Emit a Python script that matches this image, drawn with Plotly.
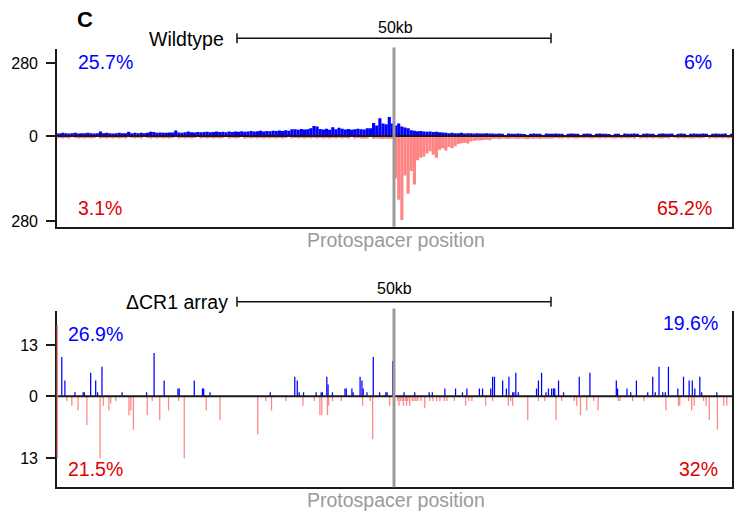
import plotly.graph_objects as go

W, H = 739, 518

# ---------------- data ----------------
# Wildtype: counts per 0.5 kb bin, left of protospacer (from -53.75 kb) and right (from +0.25 kb)
WT_BIN_KB = 0.5
WT_LEFT_START_KB = -53.75
WT_RIGHT_START_KB = 0.25

wt_up_left = [
    11, 10, 12, 11, 10, 11, 12, 10, 11, 11,
    12, 11, 10, 11, 17, 11, 12, 11, 10, 11,
    12, 11, 11, 16, 11, 12, 11, 12, 11, 12,
    16, 15, 12, 13, 12, 12, 13, 13, 21, 13,
    12, 14, 17, 14, 13, 15, 14, 15, 16, 14,
    15, 17, 15, 16, 14, 17, 15, 17, 16, 18,
    16, 17, 19, 17, 18, 20, 17, 19, 18, 20,
    19, 21, 19, 22, 20, 26, 26, 24, 27, 25,
    26, 30, 38, 36, 27, 25, 28, 24, 34, 26,
    32, 28, 25, 27, 24, 26, 28, 26, 25, 30,
    30, 50, 40, 68, 48, 45, 73, 48,
]
wt_up_right = [
    40, 48, 36, 33, 30, 22, 20, 18, 19, 17,
    16, 17, 15, 16, 14, 13, 12, 11, 12, 11,
    11, 12, 10, 11, 11, 10, 11, 10, 10, 11,
    10, 10, 9, 10, 9, 0, 10, 9, 9, 10,
    9, 8, 0, 9, 10, 9, 9, 0, 10, 9,
    9, 10, 9, 9, 0, 9, 10, 9, 9, 0,
    9, 10, 9, 0, 9, 10, 9, 9, 8, 0,
    9, 9, 0, 10, 9, 9, 10, 9, 0, 9,
    10, 9, 9, 0, 9, 10, 9, 9, 10, 0,
    9, 10, 9, 0, 9, 10, 9, 9, 10, 9,
    0, 9, 10, 9, 9, 10, 0, 9,
]
wt_down_left = [
    8, 7, 8, 7, 8, 0, 7, 8, 7, 8,
    7, 8, 7, 0, 8, 7, 8, 7, 8, 7,
    8, 7, 8, 0, 7, 8, 7, 8, 0, 7,
    8, 7, 8, 7, 8, 7, 8, 7, 0, 8,
    7, 8, 7, 8, 7, 0, 8, 7, 8, 7,
    8, 7, 8, 7, 0, 8, 7, 8, 7, 0,
    8, 7, 8, 7, 8, 7, 8, 7, 8, 7,
    8, 7, 8, 7, 0, 8, 7, 8, 7, 8,
    7, 8, 7, 8, 7, 8, 7, 8, 7, 8,
    7, 8, 7, 8, 0, 8, 7, 8, 9, 8,
    0, 9, 8, 9, 10, 9, 10, 9,
]
wt_down_right = [
    140, 210, 277, 130, 190, 115, 160, 80, 72, 68,
    58, 50, 62, 72, 45, 40, 48, 36, 40, 34,
    26, 24, 22, 25, 18, 16, 14, 15, 13, 12,
    14, 10, 9, 11, 8, 9, 10, 8, 9, 10,
    8, 9, 11, 8, 9, 8, 10, 8, 9, 8,
    8, 7, 8, 8, 7, 8, 7, 8, 8, 7,
    8, 7, 8, 8, 7, 8, 7, 8, 7, 8,
    8, 7, 8, 7, 8, 7, 8, 0, 8, 7,
    8, 7, 8, 7, 8, 8, 7, 8, 0, 7,
    8, 7, 8, 7, 8, 8, 7, 8, 7, 0,
    8, 7, 8, 7, 8, 7, 8, 7,
]

# ΔCR1 array: individual protospacer positions (kb from priming site) and counts
cr_up_kb = [
    -52.9, -52.4, -50.8, -49.5, -49.3, -48.3, -47.5, -47.2, -46.5, -43.3,
    -39.4, -38.2, -36.6, -34.4, -34.2, -31.8, -30.5, -30.3, -29.3, -19.7,
    -15.8, -15.4, -15.1, -14.4, -12.4, -11.6, -11.4, -10.7, -10.5, -9.8,
    -7.8, -7.6, -6.7, -6.5, -5.4, -5.1, -4.9, -4.3, -3.3, -2.3,
    -1.3, -1.1, -0.2, 1.6, 3.3, 5.6, 6.1, 8.1, 9.8, 10.9,
    11.6, 13.6, 14.1, 15.4, 15.7, 16.0, 17.3, 17.9, 18.3, 18.9,
    19.1, 19.4, 19.8, 22.7, 23.0, 23.5, 24.2, 24.6, 25.1, 25.4,
    25.6, 26.2, 27.0, 29.5, 31.2, 35.4, 35.6, 37.1, 37.7, 38.6,
    40.4, 41.2, 41.6, 42.2, 42.8, 43.2, 43.7, 45.2, 46.1, 47.0,
    47.5, 47.9, 48.7, 49.0, 51.4,
]
cr_up_val = [
    10, 4, 1, 1, 1, 6, 4, 1, 7.5, 1,
    1, 11, 4, 2, 2, 4, 2, 2, 1, 1,
    5, 4, 1, 1, 1, 1, 1, 5, 3, 1,
    2, 2, 2, 1, 5, 4, 2, 1, 10, 1,
    1, 1, 9, 1, 1, 1, 1, 2, 2, 1,
    2, 2, 2, 2, 5, 5, 4, 2, 5, 1,
    1, 6, 1, 2, 4, 6, 1, 2, 2, 2,
    2, 4, 1, 5, 6, 4, 2, 2, 1, 4,
    1, 5, 1, 7.5, 1, 1, 7.5, 2, 5, 4,
    4, 2, 5, 1, 1,
]
cr_down_kb = [
    -52.1, -51.3, -50.3, -48.9, -46.8, -46.3, -45.4, -45.1, -44.3, -42.2,
    -41.9, -41.5, -39.3, -38.5, -37.3, -35.9, -34.3, -33.4, -29.9, -27.7,
    -21.7, -20.4, -19.5, -17.2, -14.5, -12.7, -11.8, -11.5, -10.6, -10.4,
    -9.8, -8.4, -5.0, -3.8, -3.4, -0.7, 0.6, 0.8, 1.0, 1.3,
    1.5, 1.8, 2.0, 2.2, 2.5, 2.9, 3.2, 3.5, 3.8, 4.3,
    4.9, 5.7, 6.2, 6.8, 7.3, 8.0, 8.4, 9.6, 11.4, 11.9,
    12.4, 14.6, 15.7, 18.2, 18.6, 18.9, 21.3, 23.0, 24.0, 25.8,
    26.7, 28.7, 29.1, 29.7, 30.7, 31.8, 32.5, 35.7, 36.0, 38.0,
    39.8, 43.3, 45.3, 45.5, 46.9, 47.4, 47.8, 49.3, 49.7, 50.2,
    51.5, 52.5, 53.0,
]
cr_down_val = [
    1, 2, 3, 6, 13, 2, 3, 1.5, 1, 4,
    3, 7, 4, 1, 5, 3, 1, 13, 3, 5,
    8, 1, 3, 1, 2, 1, 4, 4, 4, 2,
    1, 1, 2, 1, 9, 2, 1, 2, 1, 1,
    2, 1, 2, 1, 2, 1, 1, 1, 1, 1,
    2.5, 1, 1, 1, 1, 1, 1, 1, 2, 1,
    1, 2, 1, 2, 1, 2, 5, 1, 1, 5,
    1, 1, 2, 4, 3, 1, 3, 1, 1, 1,
    1, 3, 2, 2, 1, 3, 2, 1, 2, 5,
    7, 2, 2,
]

panel_titles = ["Wildtype", "\u0394CR1 array"]
pct_labels = [["25.7%", "6%", "3.1%", "65.2%"], ["26.9%", "19.6%", "21.5%", "32%"]]
wt_tick, cr_tick = 280, 13
scale_bar_kb = 50
x_label = "Protospacer position"

# ---------------- layout helpers ----------------
def px(x):
    return x / W

def py(y):
    return 1 - y / H

BLUE = "#0000FF"
SALMON = "#FF8484"
REDTXT = "#DD0000"
AX = "#1a1a1a"
FONT = "Liberation Sans, Arial, sans-serif"
XR = [-53.63, 53.87]
XD = [px(57.2), px(732.3)]

wt_left_x = [WT_LEFT_START_KB + WT_BIN_KB * i for i in range(len(wt_up_left))]
wt_right_x = [WT_RIGHT_START_KB + WT_BIN_KB * i for i in range(len(wt_up_right))]

fig = go.Figure()

def bars(x, y, color, width, xa, ya):
    fig.add_trace(go.Bar(x=x, y=y, width=width, marker=dict(color=color, line=dict(width=0)),
                         xaxis=xa, yaxis=ya, showlegend=False, hoverinfo="skip"))

bars(wt_left_x + wt_right_x, wt_up_left + wt_up_right, BLUE, WT_BIN_KB, "x", "y")
bars(wt_left_x + wt_right_x, wt_down_left + wt_down_right, SALMON, WT_BIN_KB, "x2", "y2")
bars(cr_up_kb, cr_up_val, BLUE, 0.2, "x3", "y3")
bars(cr_down_kb, cr_down_val, SALMON, 0.2, "x4", "y4")

def xax(anchor, line):
    return dict(domain=XD, range=XR, anchor=anchor, showline=line, linecolor=AX, linewidth=2,
                showticklabels=False, ticks="", showgrid=False, zeroline=False, fixedrange=True,
                automargin=False)

def yax(dom, rng, tv, anchor):
    return dict(domain=dom, range=rng, anchor=anchor, tickvals=tv, ticktext=[str(v) for v in tv],
                ticks="outside", ticklen=9, tickwidth=2, tickcolor=AX, showline=True, mirror=True,
                linecolor=AX, linewidth=2, showgrid=False, zeroline=False, automargin=False,
                fixedrange=True,
                tickfont=dict(size=16, color="#000", family=FONT), ticklabelstandoff=5)

layout = dict(
    width=W, height=H, margin=dict(l=0, r=0, t=0, b=0, autoexpand=False),
    paper_bgcolor="white", plot_bgcolor="rgba(0,0,0,0)", barmode="overlay",
    font=dict(family=FONT),
    xaxis=xax("y", False), xaxis2=xax("y2", True), xaxis3=xax("y3", False), xaxis4=xax("y4", True),
    yaxis=yax([py(136), py(49.3)], [0, 332.5], [0, wt_tick], "x"),
    yaxis2=yax([py(226.7), py(136)], [298.8, 0], [wt_tick], "x2"),
    yaxis3=yax([py(396.3), py(310.7)], [0, 21.8], [0, cr_tick], "x3"),
    yaxis4=yax([py(487.3), py(396.3)], [19.1, 0], [cr_tick], "x4"),
)
fig.update_layout(**layout)

shapes = []
# zero lines (drawn above both halves)
for yz in [136, 396.3]:
    shapes.append(dict(type="line", xref="paper", yref="paper", x0=XD[0], x1=XD[1], y0=py(yz), y1=py(yz),
                       line=dict(color=AX, width=2), layer="above"))
# centre (protospacer) lines
for y0, y1 in [(226.7, 47.5), (487.3, 308.5)]:
    shapes.append(dict(type="line", xref="x", yref="paper", x0=0, x1=0, y0=py(y0), y1=py(y1),
                       line=dict(color="#9a9a9a", width=3), layer="above"))
# thin red trace along the left axis of the lower panel
shapes.append(dict(type="line", xref="paper", yref="paper", x0=XD[0], x1=XD[0], y0=py(458), y1=py(325),
                   line=dict(color="#F07070", width=1.2), layer="above"))
# scale bars
half = scale_bar_kb / 2
for yb in [38.3, 301.7]:
    shapes.append(dict(type="line", xref="x", yref="paper", x0=-half, x1=half, y0=py(yb), y1=py(yb),
                       line=dict(color="#111", width=1.5)))
    for xe in (-half, half):
        shapes.append(dict(type="line", xref="x", yref="paper", x0=xe, x1=xe, y0=py(yb - 5), y1=py(yb + 5),
                           line=dict(color="#111", width=1.5)))
fig.update_layout(shapes=shapes)

ann = []
def text(t, x, y, xanchor, size, color="#000", bold=False):
    ann.append(dict(text=("<b>%s</b>" % t) if bold else t, x=px(x), y=py(y), xref="paper", yref="paper",
                    xanchor=xanchor, yanchor="middle", showarrow=False,
                    font=dict(size=size, color=color, family=FONT)))

text("C", 85, 19, "center", 22, bold=True)
text(panel_titles[0], 226, 38.5, "right", 19.5)
text("50kb", 395, 27.5, "center", 16)
text(pct_labels[0][0], 76, 62, "left", 19.5, BLUE)
text(pct_labels[0][1], 714, 62, "right", 19.5, BLUE)
text(pct_labels[0][2], 76, 208, "left", 19.5, REDTXT)
text(pct_labels[0][3], 714, 208, "right", 19.5, REDTXT)
text(x_label, 395.5, 240, "center", 19.5, "#9a9a9a")

text(panel_titles[1], 230, 301.5, "right", 19.5)
text("50kb", 394, 288, "center", 16)
text(pct_labels[1][0], 66, 333.5, "left", 19.5, BLUE)
text(pct_labels[1][1], 720, 322.5, "right", 19.5, BLUE)
text(pct_labels[1][2], 66, 469, "left", 19.5, REDTXT)
text(pct_labels[1][3], 720, 468.5, "right", 19.5, REDTXT)
text(x_label, 395.5, 500, "center", 19.5, "#9a9a9a")

fig.update_layout(annotations=ann)
fig.write_html("out.html", config={"displayModeBar": False, "staticPlot": True},
               post_script="document.body.style.margin='0';document.body.style.overflow='hidden';")
